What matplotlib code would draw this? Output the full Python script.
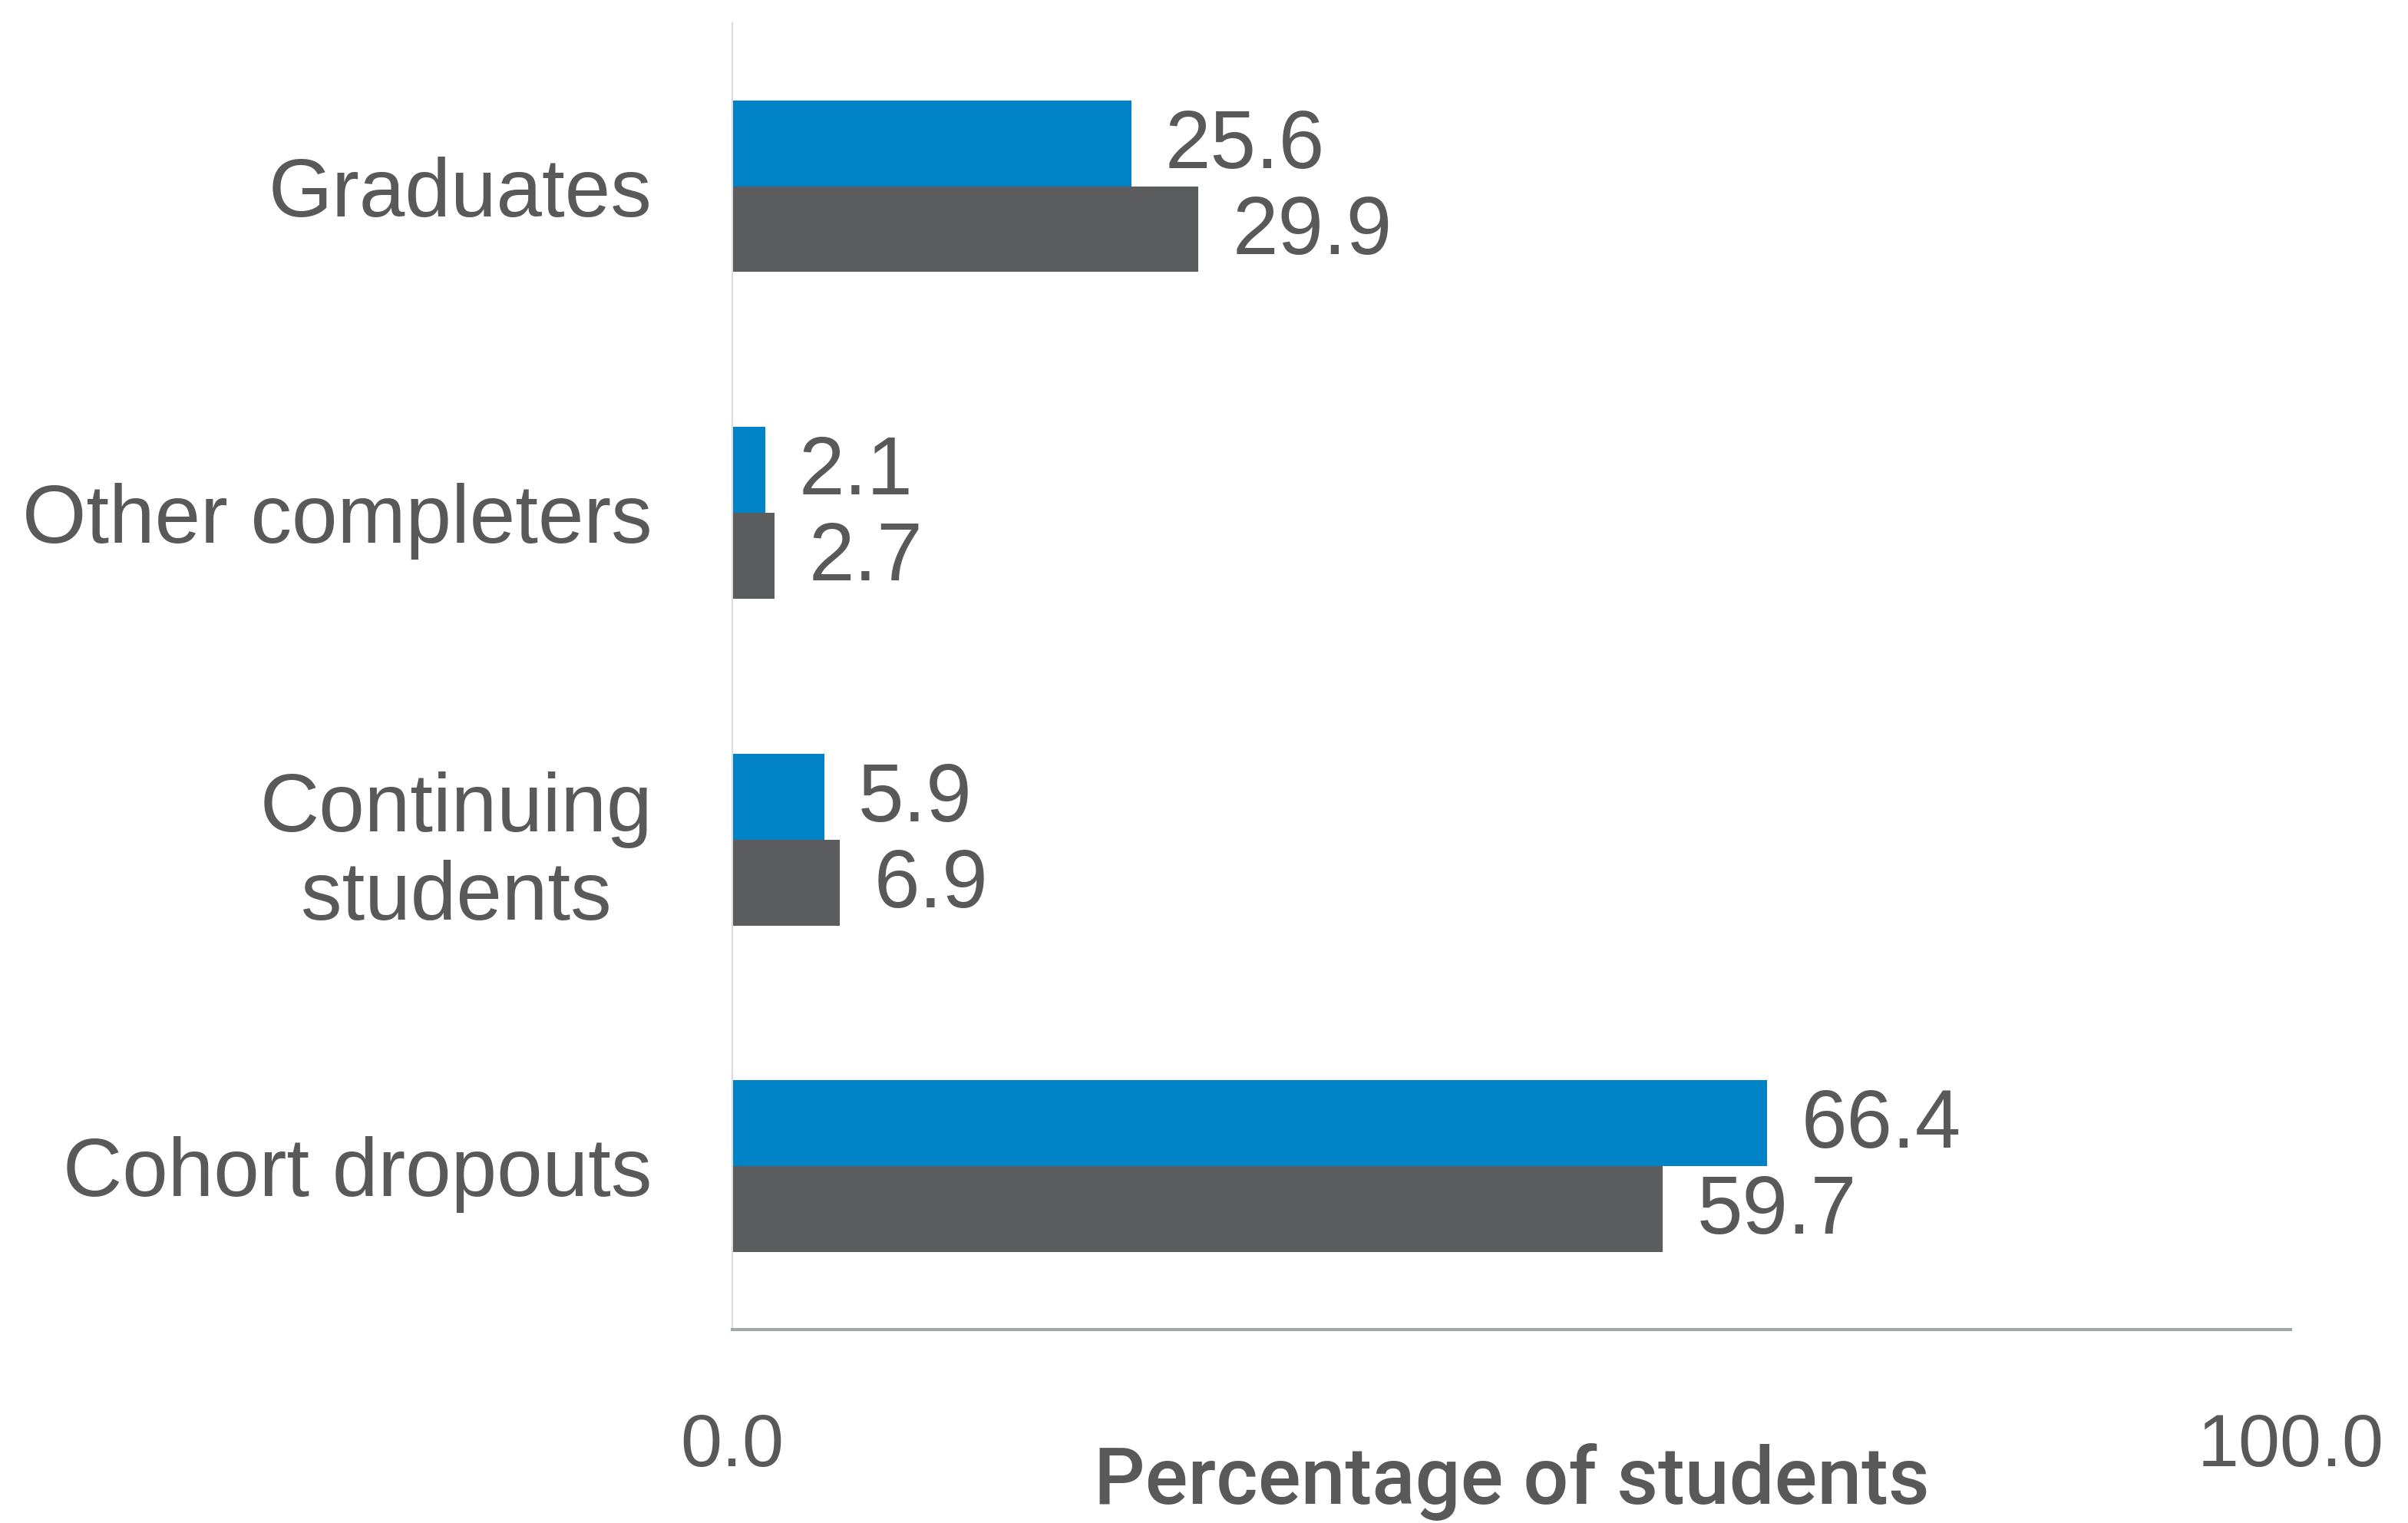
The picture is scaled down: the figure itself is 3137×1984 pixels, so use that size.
import numpy as np
import matplotlib
matplotlib.use("Agg")
import matplotlib.pyplot as plt

plt.rcParams['font.family'] = ['Liberation Sans', 'DejaVu Sans']

categories = ["Graduates", "Other completers", "Continuing\nstudents", "Cohort dropouts"]
series_a = [25.6, 2.1, 5.9, 66.4]   # blue bars (top of each pair)
series_b = [29.9, 2.7, 6.9, 59.7]   # grey bars (bottom of each pair)
x_ticks = [0.0, 100.0]

BLUE = "#0082c6"
GREY = "#5a5c5d"
TEXT = "#595959"

fig = plt.figure(figsize=(31.37, 19.84), dpi=100)
ax = fig.add_axes([0.3041, 0.127, 0.6471, 0.858])

y = np.arange(len(categories))
h = 0.263

ax.barh(y - h / 2, series_a, height=h, color=BLUE)
ax.barh(y + h / 2, series_b, height=h, color=GREY)

for yi, va, vb in zip(y, series_a, series_b):
    ax.annotate(f"{va:.1f}", (va, yi - h / 2), xytext=(32, -3), textcoords="offset points",
                va="center", ha="left", fontsize=77, color=TEXT)
    ax.annotate(f"{vb:.1f}", (vb, yi + h / 2), xytext=(32, -3), textcoords="offset points",
                va="center", ha="left", fontsize=77, color=TEXT)

ax.set_xlim(0, 100)
ax.set_ylim(len(categories) - 0.5, -0.5)

ax.set_yticks(y)
ax.set_yticklabels(categories, fontsize=77, color=TEXT, multialignment="center")
ax.set_xticks(x_ticks)
ax.set_xticklabels([f"{t:.1f}" for t in x_ticks], fontsize=70, color=TEXT)
ax.tick_params(axis="y", length=0, pad=75)
ax.tick_params(axis="x", length=0, pad=78)

ax.set_xlabel("Percentage of students", fontsize=75, color=TEXT,
              family=['Roboto', 'Liberation Sans'], fontweight="medium",
              labelpad=-36)

for side in ["top", "right"]:
    ax.spines[side].set_visible(False)
ax.spines["left"].set_color("#dcdcdc")
ax.spines["left"].set_linewidth(1.5)
ax.spines["bottom"].set_color("#9faaa4")
ax.spines["bottom"].set_linewidth(3)

fig.savefig("out.png", dpi=100, facecolor="white")
